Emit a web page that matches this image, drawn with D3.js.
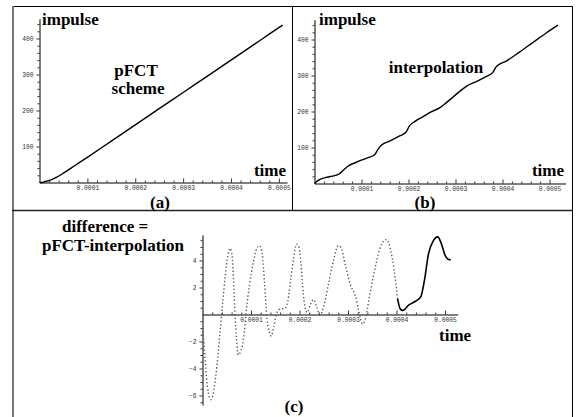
<!DOCTYPE html>
<html>
<head>
<meta charset="utf-8">
<script src="https://cdn.jsdelivr.net/npm/d3@7"></script>
<style>
body { margin: 0; background: #fff; }
svg { display: block; }
.lbl { font-family: "Liberation Serif", "Times New Roman", serif; font-weight: bold; font-size: 17px; fill: #000; }
.tick text { font-family: "Liberation Mono", "DejaVu Sans Mono", monospace; font-size: 6.3px; fill: #333; }
</style>
</head>
<body>
<svg id="chart" width="577" height="417"></svg>
<script>
// (a) impulse from the pFCT scheme
var timeA    = [0, 0.000005, 0.00001, 0.00002, 0.000035, 0.00005, 0.000075, 0.0001, 0.00015, 0.0002, 0.00025, 0.0003, 0.00035, 0.0004, 0.00045, 0.0005, 0.000508];
var impulseA = [0, 0, 2, 5, 14, 26, 48, 70, 115, 160, 205, 250, 295, 340, 385, 430, 437];

// (b) impulse from interpolation
var timeB    = [0, 0.000007, 0.000025, 0.000046, 0.000053, 0.000064, 0.000071, 0.000089, 0.00011, 0.000128, 0.000135, 0.000142, 0.00016, 0.000181, 0.000195, 0.000202, 0.000213, 0.00023, 0.000248, 0.000266, 0.00028, 0.000309, 0.000323, 0.000344, 0.000365, 0.000379, 0.000387, 0.000408, 0.000436, 0.000465, 0.000493, 0.000518];
var impulseB = [0, 8, 17, 23, 27, 40, 48, 59, 70, 80, 95, 106, 118, 132, 143, 160, 172, 185, 199, 210, 224, 256, 270, 283, 297, 308, 325, 340, 365, 392, 418, 440];

// (c) difference pFCT - interpolation
var timeC = [0, 0.000004, 0.000008, 0.000012, 0.000017, 0.000022, 0.000027, 0.000032, 0.000037, 0.000042, 0.000047, 0.000052, 0.000057, 0.000061, 0.000064, 0.000067, 0.00007, 0.000074, 0.000079, 0.000085, 0.00009, 0.000097, 0.000105, 0.000112, 0.000118, 0.000123, 0.000128, 0.000133, 0.000138, 0.000142, 0.000147, 0.000153, 0.00016, 0.00017, 0.000176, 0.000182, 0.000188, 0.000194, 0.000198, 0.000203, 0.000208, 0.000213, 0.000216, 0.000222, 0.000229, 0.000235, 0.000242, 0.00025, 0.00026, 0.00027, 0.00028, 0.000285, 0.000295, 0.000305, 0.000315, 0.000322, 0.00033, 0.000336, 0.000345, 0.000355, 0.000365, 0.000375, 0.00038, 0.000387, 0.000395, 0.000402, 0.000408, 0.000413, 0.000425, 0.00044, 0.00045, 0.000458, 0.000466, 0.000475, 0.000485, 0.000492, 0.0005, 0.000506, 0.000512];
var diffC = [-1.0, -2.6, -4.6, -5.8, -6.3, -5.9, -4.7, -3.0, -1.0, 1.0, 2.9, 4.3, 4.9, 4.4, 2.5, 0.0, -1.8, -3.0, -2.7, -1.7, 0.2, 2.2, 3.9, 4.9, 5.1, 4.5, 2.3, -0.3, -1.3, -1.6, -0.9, 0.1, 0.4, 0.45, 1.0, 2.6, 4.2, 5.2, 5.1, 3.8, 1.5, 0.3, 0.15, 0.7, 1.1, 0.6, -0.05, 0.6, 2.3, 4.0, 5.1, 5.0, 3.6, 2.2, 1.4, 0.3, -0.7, -0.3, 1.5, 3.3, 4.8, 5.5, 5.55, 4.9, 3.3, 1.2, 0.4, 0.3, 0.7, 1.0, 1.3, 2.6, 4.5, 5.4, 5.75, 5.3, 4.4, 4.1, 4.05];
var denseFrom = 0.000402; // from here on the points sit so close they read as a solid line

var xTicks = [0.0001, 0.0002, 0.0003, 0.0004, 0.0005];
var xTickLabels = ["0.0001", "0.0002", "0.0003", "0.0004", "0.0005"];
var yTicksAB = [100, 200, 300, 400];
var yTicksC = [-6, -4, -2, 2, 4];

var svg = d3.select("#chart");

// frame
var frame = svg.append("g").attr("fill", "none");
frame.append("line").attr("x1", 12).attr("x2", 573).attr("y1", 6.5).attr("y2", 6.5).attr("stroke", "#000");
frame.append("line").attr("x1", 13).attr("x2", 13).attr("y1", 6).attr("y2", 417).attr("stroke", "#777").attr("stroke-width", 2);
frame.append("line").attr("x1", 572.5).attr("x2", 572.5).attr("y1", 6).attr("y2", 417).attr("stroke", "#000");
frame.append("line").attr("x1", 292.5).attr("x2", 292.5).attr("y1", 6).attr("y2", 210.5).attr("stroke", "#000");
frame.append("line").attr("x1", 12).attr("x2", 573).attr("y1", 210.5).attr("y2", 210.5).attr("stroke", "#222").attr("stroke-width", 1.5);

function range(a, b, step) {
  var out = [];
  for (var v = a; v <= b + step / 1000; v += step) out.push(+v.toFixed(8));
  return out;
}

// Mathematica-like axes crossing at the origin
function drawAxes(g, x, y, yMajor, yMinor, xMinor) {
  var xa = g.append("g").attr("transform", "translate(0," + y(0) + ")");
  xa.call(d3.axisBottom(x).tickValues(xMinor).tickSize(-2).tickFormat(""));
  xa.select(".domain").remove();
  var xb = g.append("g").attr("transform", "translate(0," + y(0) + ")");
  xb.call(d3.axisBottom(x).tickValues(xTicks).tickSize(-4).tickSizeOuter(0).tickPadding(3.5)
    .tickFormat(function (d, i) { return xTickLabels[i]; }));

  var ya = g.append("g").attr("transform", "translate(" + x(0) + ",0)");
  ya.call(d3.axisLeft(y).tickValues(yMinor).tickSize(2).tickFormat(""));
  ya.select(".domain").remove();
  var yb = g.append("g").attr("transform", "translate(" + x(0) + ",0)");
  yb.call(d3.axisLeft(y).tickValues(yMajor).tickSize(3).tickSizeOuter(0).tickPadding(3));

  g.selectAll(".domain").attr("stroke", "#000").attr("stroke-width", 1);
  g.selectAll(".tick line").attr("stroke", "#000").attr("stroke-width", 0.8);
}

function label(x, y, txt, anchor) {
  svg.append("text").attr("class", "lbl").attr("x", x).attr("y", y)
    .attr("text-anchor", anchor || "start").text(txt);
}

// ---- (a) ----
var xA = d3.scaleLinear().domain([0, 0.000517]).range([39.5, 287]);
var yA = d3.scaleLinear().domain([0, 455]).range([182.5, 18.7]);
var gA = svg.append("g");
drawAxes(gA, xA, yA, yTicksAB, range(20, 440, 20).filter(function (v) { return v % 100; }),
  range(0.00002, 0.0005, 0.00002).filter(function (v, i) { return (i + 1) % 5; }));
gA.append("path")
  .datum(d3.zip(timeA, impulseA))
  .attr("fill", "none").attr("stroke", "#000").attr("stroke-width", 1.4)
  .attr("d", d3.line().x(function (d) { return xA(d[0]); }).y(function (d) { return yA(d[1]); }).curve(d3.curveMonotoneX));
label(42, 25, "impulse");
label(286, 176, "time", "end");
label(136, 76, "pFCT", "middle");
label(138, 94, "scheme", "middle");
label(160, 208, "(a)", "middle");

// ---- (b) ----
var xB = d3.scaleLinear().domain([0, 0.000534]).range([314.5, 565.5]);
var yB = d3.scaleLinear().domain([0, 455]).range([183.5, 19.7]);
var gB = svg.append("g");
drawAxes(gB, xB, yB, yTicksAB, range(20, 440, 20).filter(function (v) { return v % 100; }),
  range(0.00002, 0.0005, 0.00002).filter(function (v, i) { return (i + 1) % 5; }));
gB.append("path")
  .datum(d3.zip(timeB, impulseB))
  .attr("fill", "none").attr("stroke", "#000").attr("stroke-width", 1.4)
  .attr("d", d3.line().x(function (d) { return xB(d[0]); }).y(function (d) { return yB(d[1]); }).curve(d3.curveMonotoneX));
label(319, 25, "impulse");
label(564, 176, "time", "end");
label(436, 73, "interpolation", "middle");
label(425, 208, "(b)", "middle");

// ---- (c) ----
var xC = d3.scaleLinear().domain([0, 0.000526]).range([202.5, 457.6]);
var yC = d3.scaleLinear().domain([-6.7, 5.9]).range([404.95, 234.85]);
var gC = svg.append("g");
drawAxes(gC, xC, yC, yTicksC, range(-6.5, 5.5, 0.5).filter(function (v) { return v % 2; }),
  range(0.00002, 0.0005, 0.00002).filter(function (v, i) { return (i + 1) % 5; }));

var ptsC = d3.zip(timeC, diffC);
var lineC = d3.line().x(function (d) { return xC(d[0]); }).y(function (d) { return yC(d[1]); }).curve(d3.curveMonotoneX);
gC.append("path")
  .datum(ptsC.filter(function (d) { return d[0] <= denseFrom; }))
  .attr("fill", "none").attr("stroke", "#555").attr("stroke-width", 1.4)
  .attr("stroke-dasharray", "1.3 2.3")
  .attr("d", lineC);
gC.append("path")
  .datum(ptsC.filter(function (d) { return d[0] >= denseFrom; }))
  .attr("fill", "none").attr("stroke", "#000").attr("stroke-width", 1.6)
  .attr("d", lineC);

label(62, 232, "difference =");
label(42, 251, "pFCT-interpolation");
label(439, 341, "time");
label(294, 412, "(c)", "middle");
</script>
</body>
</html>
